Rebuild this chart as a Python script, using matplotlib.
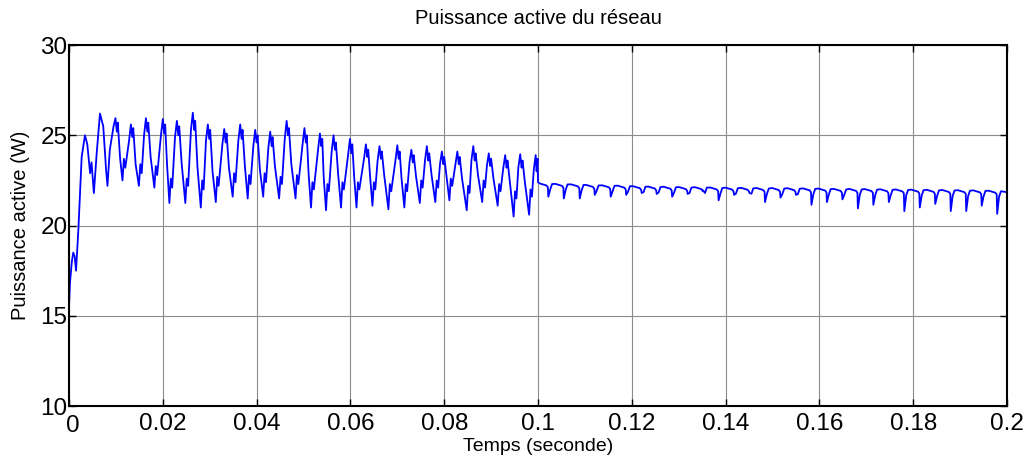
import matplotlib
matplotlib.use("Agg")
import matplotlib.pyplot as plt
import matplotlib.transforms as mtransforms
import numpy as np

# --- start-up transient (0 to ~0.01 s)
t_start = [0.0, 0.0, 0.0002, 0.0006, 0.0009, 0.0012, 0.0015, 0.0020, 0.0027, 0.0034,
           0.0039, 0.0045, 0.0048, 0.0053, 0.0059, 0.0066, 0.0073, 0.0079, 0.0082,
           0.0087, 0.0095]
p_start = [11.2, 15.5, 16.8, 18.0, 18.5, 18.3, 17.5, 19.8, 23.8, 25.0,
           24.5, 22.9, 23.5, 21.8, 24.0, 26.2, 25.5, 23.1, 22.2,
           24.2, 25.5]

# --- oscillating part (0.01 to 0.1 s), one row per cycle
t_osc = [
    [.0099, .0102, .0104, .0109, .0114, .0117, .0120, .0128],
    [.0132, .0135, .0137, .0142, .0149, .0152, .0155, .0160],
    [.0164, .0167, .0169, .0174, .0182, .0185, .0188, .0196],
    [.0200, .0203, .0205, .0209, .0214, .0217, .0220, .0226],
    [.0230, .0233, .0235, .0240, .0248, .0251, .0254, .0260],
    [.0264, .0267, .0269, .0274, .0281, .0284, .0287, .0292],
    [.0296, .0299, .0301, .0306, .0313, .0316, .0319, .0327],
    [.0331, .0334, .0336, .0341, .0349, .0352, .0355, .0361],
    [.0365, .0368, .0370, .0375, .0381, .0384, .0387, .0393],
    [.0397, .0400, .0402, .0407, .0414, .0417, .0420, .0425],
    [.0429, .0432, .0434, .0439, .0448, .0451, .0454, .0460],
    [.0464, .0467, .0469, .0474, .0483, .0486, .0489, .0498],
    [.0502, .0505, .0507, .0511, .0516, .0519, .0522, .0531],
    [.0535, .0538, .0540, .0543, .0548, .0551, .0554, .0560],
    [.0564, .0567, .0569, .0574, .0580, .0583, .0586, .0595],
    [.0599, .0602, .0604, .0608, .0613, .0616, .0619, .0629],
    [.0633, .0636, .0638, .0642, .0647, .0650, .0653, .0658],
    [.0662, .0665, .0667, .0672, .0681, .0684, .0687, .0696],
    [.0700, .0703, .0705, .0709, .0715, .0718, .0721, .0726],
    [.0730, .0733, .0735, .0740, .0748, .0751, .0754, .0759],
    [.0763, .0766, .0768, .0773, .0781, .0784, .0787, .0791],
    [.0795, .0798, .0800, .0805, .0811, .0814, .0817, .0824],
    [.0828, .0831, .0833, .0838, .0848, .0851, .0854, .0858],
    [.0862, .0865, .0867, .0872, .0881, .0884, .0887, .0891],
    [.0895, .0898, .0900, .0905, .0914, .0917, .0920, .0926],
    [.0930, .0933, .0935, .0940, .0948, .0951, .0954, .0958],
    [.0962, .0965, .0967, .0972, .0981, .0984, .0987, .0991],
    [.0995, .0997, .0999, .1000],
]
p_osc = [
    [25.95, 25.2, 25.7, 23.7, 22.5, 23.7, 23.2, 24.7],
    [25.6, 24.9, 25.4, 23.4, 22.2, 23.4, 22.9, 25.0],
    [25.95, 25.2, 25.7, 23.8, 22.1, 23.3, 22.8, 25.0],
    [25.9, 25.1, 25.6, 23.4, 21.25, 22.6, 22.1, 24.9],
    [25.8, 25.0, 25.5, 23.5, 21.25, 22.6, 22.2, 25.3],
    [26.25, 25.3, 25.8, 23.2, 21.0, 22.5, 22.0, 24.7],
    [25.6, 24.8, 25.3, 23.0, 21.3, 22.7, 22.2, 24.5],
    [25.35, 24.6, 25.1, 23.2, 21.6, 22.9, 22.4, 24.7],
    [25.6, 24.8, 25.3, 23.3, 21.5, 22.8, 22.3, 24.4],
    [25.3, 24.6, 25.0, 23.1, 21.6, 22.9, 22.4, 24.3],
    [25.2, 24.4, 24.9, 23.3, 21.5, 22.7, 22.3, 24.8],
    [25.8, 25.0, 25.4, 23.4, 21.5, 22.8, 22.3, 24.5],
    [25.4, 24.6, 25.0, 22.8, 21.0, 22.4, 22.0, 24.2],
    [25.1, 24.4, 24.8, 22.7, 20.85, 22.3, 21.9, 24.1],
    [25.0, 24.2, 24.6, 22.8, 21.0, 22.4, 22.0, 23.9],
    [24.8, 24.0, 24.5, 22.7, 21.0, 22.4, 22.0, 23.7],
    [24.5, 23.8, 24.2, 22.7, 21.1, 22.4, 22.0, 23.6],
    [24.4, 23.7, 24.1, 22.8, 20.9, 22.3, 21.9, 23.6],
    [24.45, 23.7, 24.1, 22.6, 21.0, 22.3, 21.9, 23.5],
    [24.2, 23.5, 23.9, 22.7, 21.25, 22.5, 22.1, 23.6],
    [24.4, 23.6, 24.0, 22.8, 21.3, 22.5, 22.1, 23.4],
    [24.1, 23.4, 23.8, 22.7, 21.4, 22.6, 22.2, 23.4],
    [24.1, 23.4, 23.8, 22.6, 20.85, 22.2, 21.8, 23.6],
    [24.4, 23.6, 24.0, 22.8, 21.3, 22.5, 22.1, 23.3],
    [24.0, 23.3, 23.7, 22.6, 21.1, 22.3, 21.9, 23.2],
    [23.9, 23.2, 23.6, 22.4, 20.5, 21.9, 21.5, 23.2],
    [23.95, 23.2, 23.6, 22.4, 20.6, 22.0, 21.6, 23.1],
    [23.9, 23.0, 23.7, 22.4],
]

# --- steady part (0.1 to 0.2 s): plateau level and dips
dip_t = [0.1022, 0.1055, 0.1089, 0.1121, 0.1155, 0.1188, 0.1221, 0.1253, 0.1286, 0.1319,
         0.1352, 0.1385, 0.1418, 0.1451, 0.1484, 0.1517, 0.1550, 0.1583, 0.1616, 0.1649,
         0.1682, 0.1715, 0.1748, 0.1781, 0.1814, 0.1847, 0.1880, 0.1913, 0.1946, 0.1979]
dip_p = [21.6, 21.5, 21.5, 21.7, 21.6, 21.7, 21.8, 21.75, 21.6, 21.75,
         21.95, 21.4, 21.7, 21.8, 21.3, 21.55, 21.7, 21.15, 21.3, 21.45,
         20.95, 21.15, 21.3, 20.8, 21.0, 21.2, 20.8, 20.8, 21.1, 20.65]
level_p = [22.30, 22.28, 22.25, 22.22, 22.20, 22.18, 22.15, 22.13, 22.12, 22.10,
           22.10, 22.08, 22.07, 22.06, 22.05, 22.05, 22.04, 22.03, 22.02, 22.00,
           22.00, 21.99, 21.98, 21.97, 21.96, 21.95, 21.94, 21.93, 21.92, 21.90]
t_end = 0.2
p_end = 21.85

# build the full trace
t = list(t_start)
p = list(p_start)
for row_t, row_p in zip(t_osc, p_osc):
    t += row_t
    p += row_p
for td, dp, lv in zip(dip_t, dip_p, level_p):
    t += [td - 0.0018, td - 0.0010, td - 0.0004, td - 0.0001, td, td + 0.0004, td + 0.0008]
    p += [lv + 0.03, lv - 0.03, lv - 0.08, lv - 0.18, dp, lv - 0.3, lv]
t.append(t_end)
p.append(p_end)

plt.rcParams['font.family'] = ['Liberation Sans', 'DejaVu Sans']

fig = plt.figure(figsize=(10.3, 4.63), dpi=100)
ax = fig.add_axes([0.067, 0.123, 0.9107, 0.7797])
ax.plot(t, p, color=(0, 0, 1), linewidth=1.3)

ax.set_xlim(0, 0.2)
ax.set_ylim(10, 30)
ax.set_xticks([0, 0.02, 0.04, 0.06, 0.08, 0.1, 0.12, 0.14, 0.16, 0.18, 0.2])
ax.set_xticklabels(['0', '0.02', '0.04', '0.06', '0.08', '0.1', '0.12', '0.14', '0.16', '0.18', '0.2'])
ax.set_yticks([10, 15, 20, 25, 30])
ax.tick_params(axis='both', direction='in', labelsize=17.5, length=5, width=1,
               top=True, right=True)
ax.tick_params(axis='x', pad=5)
ax.tick_params(axis='y', pad=1)
ax.grid(True, color='#8c8c8c', linewidth=0.8)
for s in ax.spines.values():
    s.set_linewidth(1.5)
    s.set_color('black')

# nudge the "0" x label so it does not sit on top of "10"
lab0 = ax.get_xticklabels()[0]
lab0.set_transform(lab0.get_transform() +
                   mtransforms.ScaledTranslation(4 / 100, -2 / 100, fig.dpi_scale_trans))

ax.set_xlabel('Temps (seconde)', fontsize=14, labelpad=1)
ax.set_ylabel('Puissance active (W)', fontsize=14.5)
ax.yaxis.set_label_coords(-0.042, 0.5)
ax.set_title('Puissance active du réseau', fontsize=14.5, pad=15)

fig.savefig('out.png', dpi=100)
